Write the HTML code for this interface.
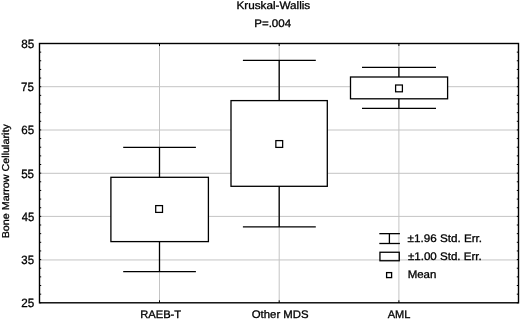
<!DOCTYPE html>
<html><head><meta charset="utf-8"><style>
html,body{margin:0;padding:0;background:#fff;overflow:hidden;}
svg{display:block;will-change:transform;text-rendering:geometricPrecision;font-family:"Liberation Sans",sans-serif;}
</style></head><body>
<svg width="520" height="319" viewBox="0 0 520 319">
<rect x="0" y="0" width="520" height="319" fill="#fff"/>
<line x1="39.5" x2="518.5" y1="86.70" y2="86.70" stroke="#c4c4c4" stroke-width="1"/>
<line x1="39.5" x2="518.5" y1="130.00" y2="130.00" stroke="#c4c4c4" stroke-width="1"/>
<line x1="39.5" x2="518.5" y1="173.30" y2="173.30" stroke="#c4c4c4" stroke-width="1"/>
<line x1="39.5" x2="518.5" y1="216.40" y2="216.40" stroke="#c4c4c4" stroke-width="1"/>
<line x1="39.5" x2="518.5" y1="259.95" y2="259.95" stroke="#c4c4c4" stroke-width="1"/>
<line x1="159.5" x2="159.5" y1="43.5" y2="302.8" stroke="#c4c4c4" stroke-width="1"/>
<line x1="279.2" x2="279.2" y1="43.5" y2="302.8" stroke="#c4c4c4" stroke-width="1"/>
<line x1="398.9" x2="398.9" y1="43.5" y2="302.8" stroke="#c4c4c4" stroke-width="1"/>
<line x1="159.5" x2="159.5" y1="147.4" y2="177.3" stroke="#000" stroke-width="1.3"/>
<line x1="159.5" x2="159.5" y1="241.6" y2="271.6" stroke="#000" stroke-width="1.3"/>
<line x1="123.2" x2="195.9" y1="147.4" y2="147.4" stroke="#000" stroke-width="1.3"/>
<line x1="123.2" x2="195.9" y1="271.6" y2="271.6" stroke="#000" stroke-width="1.3"/>
<rect x="110.9" y="177.3" width="97.50" height="64.30" fill="#fff" stroke="#000" stroke-width="1.3"/>
<rect x="155.70" y="205.60" width="6.8" height="6.8" fill="#fff" stroke="#000" stroke-width="1.25"/>
<line x1="279.2" x2="279.2" y1="60.4" y2="100.6" stroke="#000" stroke-width="1.3"/>
<line x1="279.2" x2="279.2" y1="186.3" y2="226.9" stroke="#000" stroke-width="1.3"/>
<line x1="242.9" x2="315.8" y1="60.4" y2="60.4" stroke="#000" stroke-width="1.3"/>
<line x1="242.9" x2="315.8" y1="226.9" y2="226.9" stroke="#000" stroke-width="1.3"/>
<rect x="231.0" y="100.6" width="96.30" height="85.70" fill="#fff" stroke="#000" stroke-width="1.3"/>
<rect x="275.85" y="140.60" width="6.8" height="6.8" fill="#fff" stroke="#000" stroke-width="1.25"/>
<line x1="398.9" x2="398.9" y1="67.4" y2="77.0" stroke="#000" stroke-width="1.3"/>
<line x1="398.9" x2="398.9" y1="98.8" y2="108.4" stroke="#000" stroke-width="1.3"/>
<line x1="362.0" x2="436.0" y1="67.4" y2="67.4" stroke="#000" stroke-width="1.3"/>
<line x1="362.0" x2="436.0" y1="108.4" y2="108.4" stroke="#000" stroke-width="1.3"/>
<rect x="350.5" y="77.0" width="97.10" height="21.80" fill="#fff" stroke="#000" stroke-width="1.3"/>
<rect x="395.60" y="85.00" width="6.8" height="6.8" fill="#fff" stroke="#000" stroke-width="1.25"/>
<rect x="39.5" y="43.5" width="479.0" height="259.30" fill="none" stroke="#000" stroke-width="1.4"/>
<line x1="39.5" x2="41.2" y1="302.80" y2="302.80" stroke="#000" stroke-width="1"/>
<line x1="516.8" x2="518.5" y1="302.80" y2="302.80" stroke="#000" stroke-width="1"/>
<line x1="39.5" x2="41.2" y1="294.16" y2="294.16" stroke="#000" stroke-width="1"/>
<line x1="516.8" x2="518.5" y1="294.16" y2="294.16" stroke="#000" stroke-width="1"/>
<line x1="39.5" x2="41.2" y1="285.51" y2="285.51" stroke="#000" stroke-width="1"/>
<line x1="516.8" x2="518.5" y1="285.51" y2="285.51" stroke="#000" stroke-width="1"/>
<line x1="39.5" x2="41.2" y1="276.87" y2="276.87" stroke="#000" stroke-width="1"/>
<line x1="516.8" x2="518.5" y1="276.87" y2="276.87" stroke="#000" stroke-width="1"/>
<line x1="39.5" x2="41.2" y1="268.23" y2="268.23" stroke="#000" stroke-width="1"/>
<line x1="516.8" x2="518.5" y1="268.23" y2="268.23" stroke="#000" stroke-width="1"/>
<line x1="39.5" x2="41.2" y1="259.58" y2="259.58" stroke="#000" stroke-width="1"/>
<line x1="516.8" x2="518.5" y1="259.58" y2="259.58" stroke="#000" stroke-width="1"/>
<line x1="39.5" x2="41.2" y1="250.94" y2="250.94" stroke="#000" stroke-width="1"/>
<line x1="516.8" x2="518.5" y1="250.94" y2="250.94" stroke="#000" stroke-width="1"/>
<line x1="39.5" x2="41.2" y1="242.30" y2="242.30" stroke="#000" stroke-width="1"/>
<line x1="516.8" x2="518.5" y1="242.30" y2="242.30" stroke="#000" stroke-width="1"/>
<line x1="39.5" x2="41.2" y1="233.65" y2="233.65" stroke="#000" stroke-width="1"/>
<line x1="516.8" x2="518.5" y1="233.65" y2="233.65" stroke="#000" stroke-width="1"/>
<line x1="39.5" x2="41.2" y1="225.01" y2="225.01" stroke="#000" stroke-width="1"/>
<line x1="516.8" x2="518.5" y1="225.01" y2="225.01" stroke="#000" stroke-width="1"/>
<line x1="39.5" x2="41.2" y1="216.37" y2="216.37" stroke="#000" stroke-width="1"/>
<line x1="516.8" x2="518.5" y1="216.37" y2="216.37" stroke="#000" stroke-width="1"/>
<line x1="39.5" x2="41.2" y1="207.72" y2="207.72" stroke="#000" stroke-width="1"/>
<line x1="516.8" x2="518.5" y1="207.72" y2="207.72" stroke="#000" stroke-width="1"/>
<line x1="39.5" x2="41.2" y1="199.08" y2="199.08" stroke="#000" stroke-width="1"/>
<line x1="516.8" x2="518.5" y1="199.08" y2="199.08" stroke="#000" stroke-width="1"/>
<line x1="39.5" x2="41.2" y1="190.44" y2="190.44" stroke="#000" stroke-width="1"/>
<line x1="516.8" x2="518.5" y1="190.44" y2="190.44" stroke="#000" stroke-width="1"/>
<line x1="39.5" x2="41.2" y1="181.79" y2="181.79" stroke="#000" stroke-width="1"/>
<line x1="516.8" x2="518.5" y1="181.79" y2="181.79" stroke="#000" stroke-width="1"/>
<line x1="39.5" x2="41.2" y1="173.15" y2="173.15" stroke="#000" stroke-width="1"/>
<line x1="516.8" x2="518.5" y1="173.15" y2="173.15" stroke="#000" stroke-width="1"/>
<line x1="39.5" x2="41.2" y1="164.51" y2="164.51" stroke="#000" stroke-width="1"/>
<line x1="516.8" x2="518.5" y1="164.51" y2="164.51" stroke="#000" stroke-width="1"/>
<line x1="39.5" x2="41.2" y1="155.86" y2="155.86" stroke="#000" stroke-width="1"/>
<line x1="516.8" x2="518.5" y1="155.86" y2="155.86" stroke="#000" stroke-width="1"/>
<line x1="39.5" x2="41.2" y1="147.22" y2="147.22" stroke="#000" stroke-width="1"/>
<line x1="516.8" x2="518.5" y1="147.22" y2="147.22" stroke="#000" stroke-width="1"/>
<line x1="39.5" x2="41.2" y1="138.58" y2="138.58" stroke="#000" stroke-width="1"/>
<line x1="516.8" x2="518.5" y1="138.58" y2="138.58" stroke="#000" stroke-width="1"/>
<line x1="39.5" x2="41.2" y1="129.93" y2="129.93" stroke="#000" stroke-width="1"/>
<line x1="516.8" x2="518.5" y1="129.93" y2="129.93" stroke="#000" stroke-width="1"/>
<line x1="39.5" x2="41.2" y1="121.29" y2="121.29" stroke="#000" stroke-width="1"/>
<line x1="516.8" x2="518.5" y1="121.29" y2="121.29" stroke="#000" stroke-width="1"/>
<line x1="39.5" x2="41.2" y1="112.65" y2="112.65" stroke="#000" stroke-width="1"/>
<line x1="516.8" x2="518.5" y1="112.65" y2="112.65" stroke="#000" stroke-width="1"/>
<line x1="39.5" x2="41.2" y1="104.00" y2="104.00" stroke="#000" stroke-width="1"/>
<line x1="516.8" x2="518.5" y1="104.00" y2="104.00" stroke="#000" stroke-width="1"/>
<line x1="39.5" x2="41.2" y1="95.36" y2="95.36" stroke="#000" stroke-width="1"/>
<line x1="516.8" x2="518.5" y1="95.36" y2="95.36" stroke="#000" stroke-width="1"/>
<line x1="39.5" x2="41.2" y1="86.72" y2="86.72" stroke="#000" stroke-width="1"/>
<line x1="516.8" x2="518.5" y1="86.72" y2="86.72" stroke="#000" stroke-width="1"/>
<line x1="39.5" x2="41.2" y1="78.07" y2="78.07" stroke="#000" stroke-width="1"/>
<line x1="516.8" x2="518.5" y1="78.07" y2="78.07" stroke="#000" stroke-width="1"/>
<line x1="39.5" x2="41.2" y1="69.43" y2="69.43" stroke="#000" stroke-width="1"/>
<line x1="516.8" x2="518.5" y1="69.43" y2="69.43" stroke="#000" stroke-width="1"/>
<line x1="39.5" x2="41.2" y1="60.78" y2="60.78" stroke="#000" stroke-width="1"/>
<line x1="516.8" x2="518.5" y1="60.78" y2="60.78" stroke="#000" stroke-width="1"/>
<line x1="39.5" x2="41.2" y1="52.14" y2="52.14" stroke="#000" stroke-width="1"/>
<line x1="516.8" x2="518.5" y1="52.14" y2="52.14" stroke="#000" stroke-width="1"/>
<line x1="39.5" x2="41.2" y1="43.50" y2="43.50" stroke="#000" stroke-width="1"/>
<line x1="516.8" x2="518.5" y1="43.50" y2="43.50" stroke="#000" stroke-width="1"/>
<line x1="159.5" x2="159.5" y1="43.5" y2="46.0" stroke="#000" stroke-width="1"/>
<line x1="159.5" x2="159.5" y1="300.3" y2="302.8" stroke="#000" stroke-width="1"/>
<line x1="279.2" x2="279.2" y1="43.5" y2="46.0" stroke="#000" stroke-width="1"/>
<line x1="279.2" x2="279.2" y1="300.3" y2="302.8" stroke="#000" stroke-width="1"/>
<line x1="398.9" x2="398.9" y1="43.5" y2="46.0" stroke="#000" stroke-width="1"/>
<line x1="398.9" x2="398.9" y1="300.3" y2="302.8" stroke="#000" stroke-width="1"/>
<line x1="379.3" x2="399.9" y1="233.65" y2="233.65" stroke="#000" stroke-width="1.3"/>
<line x1="379.3" x2="399.9" y1="243.5" y2="243.5" stroke="#000" stroke-width="1.3"/>
<line x1="389.4" x2="389.4" y1="233.65" y2="243.5" stroke="#000" stroke-width="1.3"/>
<rect x="379.95" y="252.25" width="19.30" height="8.50" fill="none" stroke="#000" stroke-width="1.3"/>
<rect x="386.6" y="272.6" width="5" height="5" fill="none" stroke="#000" stroke-width="1.3"/>
<text x="236.43" y="9.00" font-size="11" textLength="73.80" lengthAdjust="spacingAndGlyphs" stroke="#000" stroke-width="0.3">Kruskal-Wallis</text>
<text x="254.19" y="27.00" font-size="11" textLength="36.93" lengthAdjust="spacingAndGlyphs" stroke="#000" stroke-width="0.3">P=.004</text>
<text transform="translate(9.00,238.35) rotate(-90)" font-size="10" textLength="114.16" lengthAdjust="spacingAndGlyphs" stroke="#000" stroke-width="0.3">Bone Marrow Cellularity</text>
<text x="140.15" y="318.00" font-size="11" textLength="41.03" lengthAdjust="spacingAndGlyphs" stroke="#000" stroke-width="0.3">RAEB-T</text>
<text x="251.72" y="318.00" font-size="11" textLength="56.90" lengthAdjust="spacingAndGlyphs" stroke="#000" stroke-width="0.3">Other MDS</text>
<text x="387.78" y="318.00" font-size="11" textLength="22.69" lengthAdjust="spacingAndGlyphs" stroke="#000" stroke-width="0.3">AML</text>
<text x="407.61" y="242.00" font-size="11" textLength="74.49" lengthAdjust="spacingAndGlyphs" stroke="#000" stroke-width="0.3">&#177;1.96 Std. Err.</text>
<text x="407.90" y="260.00" font-size="11" textLength="73.92" lengthAdjust="spacingAndGlyphs" stroke="#000" stroke-width="0.3">&#177;1.00 Std. Err.</text>
<text x="407.67" y="278.00" font-size="11" textLength="28.73" lengthAdjust="spacingAndGlyphs" stroke="#000" stroke-width="0.3">Mean</text>
<text x="21.33" y="48.00" font-size="12" textLength="12.98" lengthAdjust="spacingAndGlyphs" stroke="#000" stroke-width="0.3">85</text>
<text x="21.11" y="91.00" font-size="12" textLength="12.87" lengthAdjust="spacingAndGlyphs" stroke="#000" stroke-width="0.3">75</text>
<text x="21.30" y="134.00" font-size="12" textLength="12.87" lengthAdjust="spacingAndGlyphs" stroke="#000" stroke-width="0.3">65</text>
<text x="21.18" y="178.00" font-size="12" textLength="12.86" lengthAdjust="spacingAndGlyphs" stroke="#000" stroke-width="0.3">55</text>
<text x="21.67" y="221.00" font-size="12" textLength="12.57" lengthAdjust="spacingAndGlyphs" stroke="#000" stroke-width="0.3">45</text>
<text x="21.34" y="264.00" font-size="12" textLength="12.73" lengthAdjust="spacingAndGlyphs" stroke="#000" stroke-width="0.3">35</text>
<text x="21.34" y="307.00" font-size="12" textLength="13.01" lengthAdjust="spacingAndGlyphs" stroke="#000" stroke-width="0.3">25</text>
</svg>
</body></html>
